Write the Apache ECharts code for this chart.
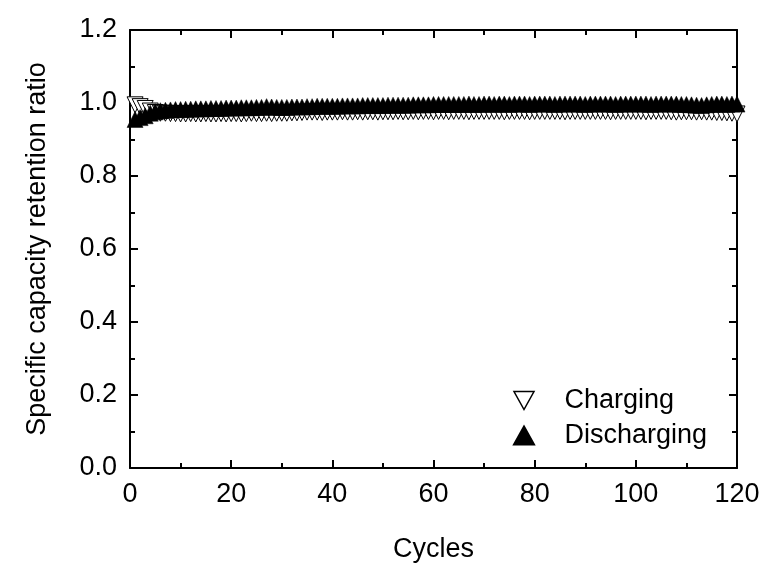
<!DOCTYPE html>
<html>
<head>
<meta charset="utf-8">
<script src="https://cdn.jsdelivr.net/npm/echarts@6/dist/echarts.min.js"></script>
<style>html,body{margin:0;padding:0;background:#fff}#c{width:768px;height:568px}</style>
</head>
<body>
<div id="c"></div>
<script>
const cycles = Array.from({length: 120}, (_, i) => i + 1);
const charging = [
0.995,0.990,0.985,0.978,0.974,0.972,0.972,0.971,0.971,0.970,
0.970,0.971,0.970,0.970,0.971,0.970,0.970,0.971,0.970,0.971,
0.971,0.970,0.971,0.972,0.971,0.971,0.972,0.971,0.972,0.972,
0.972,0.973,0.973,0.974,0.975,0.975,0.975,0.974,0.975,0.975,
0.975,0.976,0.975,0.975,0.976,0.975,0.976,0.976,0.975,0.976,
0.976,0.976,0.977,0.976,0.976,0.977,0.976,0.977,0.977,0.976,
0.977,0.977,0.976,0.977,0.977,0.977,0.976,0.977,0.977,0.977,
0.977,0.977,0.977,0.976,0.977,0.977,0.977,0.977,0.976,0.977,
0.977,0.977,0.977,0.977,0.977,0.976,0.977,0.977,0.977,0.977,
0.977,0.977,0.977,0.977,0.976,0.977,0.977,0.977,0.977,0.977,
0.977,0.976,0.977,0.977,0.977,0.977,0.976,0.975,0.976,0.976,
0.976,0.975,0.976,0.975,0.975,0.974,0.974,0.973,0.972,0.970
];
const discharging = [
0.955,0.960,0.965,0.972,0.976,0.979,0.980,0.981,0.982,0.982,
0.983,0.983,0.984,0.984,0.984,0.985,0.985,0.985,0.986,0.986,
0.986,0.987,0.987,0.987,0.988,0.988,0.990,0.989,0.988,0.988,
0.988,0.989,0.989,0.989,0.990,0.990,0.991,0.991,0.991,0.991,
0.991,0.992,0.992,0.992,0.992,0.993,0.993,0.993,0.993,0.993,
0.994,0.994,0.994,0.994,0.994,0.995,0.995,0.995,0.995,0.996,
0.996,0.996,0.996,0.996,0.996,0.996,0.997,0.996,0.996,0.997,
0.997,0.996,0.997,0.997,0.996,0.997,0.997,0.997,0.996,0.997,
0.997,0.997,0.997,0.996,0.997,0.997,0.997,0.997,0.997,0.996,
0.997,0.997,0.997,0.997,0.997,0.996,0.997,0.997,0.997,0.997,
0.997,0.997,0.996,0.997,0.997,0.997,0.997,0.997,0.996,0.996,
0.995,0.994,0.993,0.995,0.996,0.997,0.997,0.996,0.997,0.997
];
const xTicks = [0, 20, 40, 60, 80, 100, 120];
const yTicks = [0.0, 0.2, 0.4, 0.6, 0.8, 1.0, 1.2];

const FONT = 'Liberation Sans';
const FS = 27;
const axisCommon = {
  axisLine: {show: true, onZero: false, lineStyle: {color: '#000', width: 2}},
  axisTick: {show: true, inside: true, length: 8, lineStyle: {color: '#000', width: 2}},
  minorTick: {show: true, splitNumber: 2, length: 5, lineStyle: {color: '#000', width: 2}},
  splitLine: {show: false}
};
const chart = echarts.init(document.getElementById('c'));
chart.setOption({
  backgroundColor: '#fff',
  animation: false,
  grid: {left: 130, right: 31, top: 30, bottom: 100},
  legend: {
    orient: 'vertical', left: 508, top: 382, itemGap: 8,
    itemWidth: 21, itemHeight: 18,
    textStyle: {fontFamily: FONT, fontSize: FS, color: '#000', padding: [0, 0, 0, 25]},
    data: [
      {name: 'Charging', icon: 'path://M0,0 L20,0 L10,18 Z',
       itemStyle: {color: '#fff', borderColor: '#000', borderWidth: 1.5}},
      {name: 'Discharging', icon: 'path://M10,0 L20,18 L0,18 Z'}
    ]
  },
  xAxis: [
    Object.assign({
      type: 'value', min: 0, max: 120, interval: 20, position: 'bottom',
      name: 'Cycles', nameLocation: 'middle', nameGap: 68,
      nameTextStyle: {fontFamily: FONT, fontSize: FS, color: '#000'},
      axisLabel: {fontFamily: FONT, fontSize: FS, color: '#000', margin: 13,
        customValues: xTicks, formatter: v => String(v)}
    }, axisCommon),
    Object.assign({
      type: 'value', min: 0, max: 120, interval: 20, position: 'top',
      axisLabel: {show: false}
    }, axisCommon)
  ],
  yAxis: [
    Object.assign({
      type: 'value', min: 0, max: 1.2, interval: 0.2, position: 'left',
      name: 'Specific capacity retention ratio', nameLocation: 'middle', nameGap: 79,
      nameTextStyle: {fontFamily: FONT, fontSize: FS, color: '#000'},
      axisLabel: {fontFamily: FONT, fontSize: FS, color: '#000', margin: 13,
        formatter: v => v.toFixed(1)}
    }, axisCommon),
    Object.assign({
      type: 'value', min: 0, max: 1.2, interval: 0.2, position: 'right',
      axisLabel: {show: false}
    }, axisCommon)
  ],
  series: [
    {
      name: 'Charging', type: 'scatter', xAxisIndex: 0, yAxisIndex: 0,
      symbol: 'triangle', symbolRotate: 180, symbolSize: 16,
      itemStyle: {color: '#fff', borderColor: '#000', borderWidth: 1, opacity: 1},
      data: cycles.map((c, i) => [c, charging[i]]), z: 2
    },
    {
      name: 'Discharging', type: 'scatter', xAxisIndex: 0, yAxisIndex: 0,
      symbol: 'triangle', symbolSize: 16,
      itemStyle: {color: '#000', borderColor: '#000', borderWidth: 0.5, opacity: 1},
      data: cycles.map((c, i) => [c, discharging[i]]), z: 3
    }
  ]
});
</script>
</body>
</html>
